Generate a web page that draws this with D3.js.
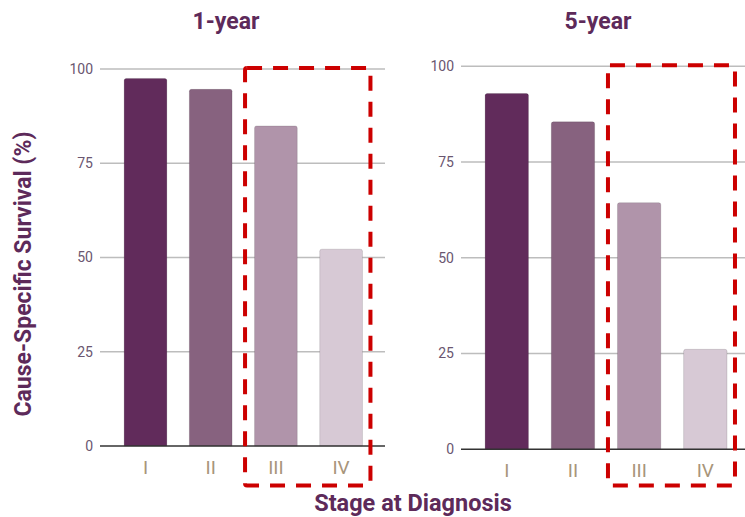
<!DOCTYPE html>
<html>
<head>
<meta charset="utf-8">
<script src="https://cdn.jsdelivr.net/npm/d3@7"></script>
<style>
  html, body { margin: 0; padding: 0; background: #fff; }
  svg { display: block; font-family: Roboto, "Noto Sans", sans-serif; }
</style>
</head>
<body>
<svg id="chart" width="745" height="517"></svg>
<script>
// Cause-specific survival by stage at diagnosis
const stages = ["I", "II", "III", "IV"];
const oneYear = [97.5, 94.6, 84.9, 52.2];
const fiveYear = [92.9, 85.5, 64.4, 26.1];
const yTicks = [0, 25, 50, 75, 100];
const panelTitles = ["1-year", "5-year"];
const highlighted = ["III", "IV"];
const barColors = ["#612b5b", "#87627f", "#b094aa", "#d7c9d5"];

const svg = d3.select("#chart");
const purple = "#5d2a5a";

const panels = [
  { title: panelTitles[0], values: oneYear, grid: [100, 385], band: [112.9, 373.7], y: [446, 69], titleX: 226 },
  { title: panelTitles[1], values: fiveYear, grid: [461, 745], band: [473.7, 738.4], y: [449.3, 66.3], titleX: 598 }
];

panels.forEach(p => {
  const g = svg.append("g");
  const x = d3.scaleBand().domain(stages).range(p.band).paddingInner(0.345).paddingOuter(0.1725);
  const y = d3.scaleLinear().domain([0, 100]).range(p.y);

  // gridlines
  g.selectAll("line.grid").data(yTicks.filter(t => t > 0)).join("line")
    .attr("x1", p.grid[0]).attr("x2", p.grid[1])
    .attr("y1", d => y(d)).attr("y2", d => y(d))
    .attr("stroke", "#bdbdbd").attr("stroke-width", 1.5);

  // y tick labels
  g.selectAll("text.ytick").data(yTicks).join("text")
    .attr("x", p.grid[0] - 7).attr("y", d => y(d))
    .attr("dy", "0.35em").attr("text-anchor", "end")
    .attr("font-size", 14).attr("fill", "#6a5670")
    .text(d => d);

  // bars with slightly rounded tops
  g.selectAll("path.bar").data(p.values).join("path")
    .attr("d", (d, i) => {
      const x0 = x(stages[i]), w = x.bandwidth(), y0 = y(0), y1 = y(d), r = 2;
      return `M${x0},${y0}V${y1 + r}Q${x0},${y1} ${x0 + r},${y1}H${x0 + w - r}Q${x0 + w},${y1} ${x0 + w},${y1 + r}V${y0}Z`;
    })
    .attr("fill", (d, i) => barColors[i])
    .attr("stroke", "rgba(0,0,0,0.12)").attr("stroke-width", 1);

  // baseline
  g.append("line")
    .attr("x1", p.grid[0]).attr("x2", p.grid[1])
    .attr("y1", y(0)).attr("y2", y(0))
    .attr("stroke", "#333").attr("stroke-width", 1.5);

  // stage labels
  g.selectAll("text.xtick").data(stages).join("text")
    .attr("x", d => x(d) + x.bandwidth() / 2).attr("y", y(0) + 28)
    .attr("text-anchor", "middle")
    .attr("font-size", 19).attr("font-weight", 400).attr("fill", "#a8957a")
    .text(d => d);

  // panel title
  g.append("text")
    .attr("x", p.titleX).attr("y", 29).attr("text-anchor", "middle")
    .attr("font-size", 23).attr("font-weight", 700).attr("fill", purple)
    .text(p.title);

  // dashed highlight around the late stages
  const hx0 = x(highlighted[0]) - 9.5;
  const hx1 = x(highlighted[1]) + x.bandwidth() + 8;
  g.append("rect")
    .attr("x", hx0).attr("y", p.y[1] - 1)
    .attr("width", hx1 - hx0).attr("height", 485.5 - (p.y[1] - 1))
    .attr("rx", 2)
    .attr("fill", "none").attr("stroke", "#cc0000")
    .attr("stroke-width", 4).attr("stroke-dasharray", "15,11");
});

// axis titles
svg.append("text")
  .attr("transform", "translate(31,274) rotate(-90)")
  .attr("text-anchor", "middle")
  .attr("font-size", 23).attr("font-weight", 700).attr("fill", purple)
  .text("Cause-Specific Survival (%)");

svg.append("text")
  .attr("x", 413).attr("y", 511).attr("text-anchor", "middle")
  .attr("font-size", 23.5).attr("font-weight", 700).attr("fill", purple)
  .text("Stage at Diagnosis");
</script>
</body>
</html>
